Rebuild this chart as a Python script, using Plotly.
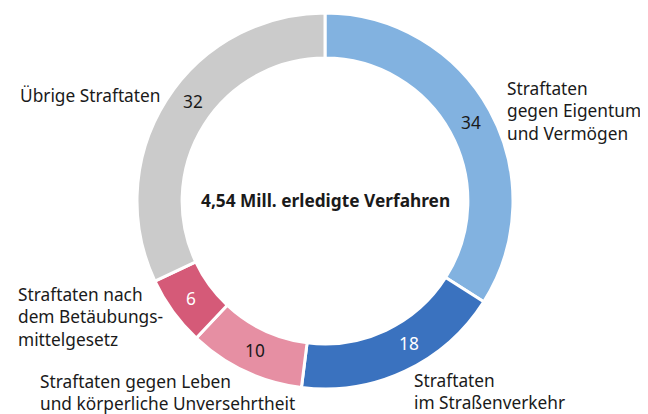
import math
import plotly.graph_objects as go

categories = ["Straftaten gegen Eigentum und Vermögen", "Straftaten im Straßenverkehr",
              "Straftaten gegen Leben und körperliche Unversehrtheit",
              "Straftaten nach dem Betäubungsmittelgesetz", "Übrige Straftaten"]
values = [34, 18, 10, 6, 32]
colors = ["#82B2E0", "#3A72BF", "#E68FA3", "#D55A78", "#CBCBCB"]
text_colors = ["#1a1a1a", "#ffffff", "#1a1a1a", "#ffffff", "#1a1a1a"]
center_text = "4,54 Mill. erledigte Verfahren"

FONT = "Noto Sans"
FS = 17.3
W, H = 640, 406   # page body has an 8px margin
OFF = 8
CX, CY, R_OUT, HOLE = 325, 201, 188, 0.76

fig = go.Figure(go.Pie(
    labels=categories, values=values, sort=False, direction="clockwise", rotation=0,
    hole=HOLE, marker=dict(colors=colors, line=dict(color="white", width=3)),
    textinfo="none",
    domain=dict(x=[(CX - R_OUT - OFF) / W, (CX + R_OUT - OFF) / W],
                y=[(414 - (CY + R_OUT)) / H, (414 - (CY - R_OUT)) / H]),
    showlegend=False, hoverinfo="label+value",
))

# value labels placed on the ring, at each slice's mid angle (with small nudges)
nudges = [0.5, -5.5, 0, 0, 4.5]
r_mid = R_OUT * (1 + HOLE) / 2
total = sum(values)
cum = 0
for v, col, nd in zip(values, text_colors, nudges):
    ang = math.radians((cum + v / 2) / total * 360 + nd)
    cum += v
    px = CX + r_mid * math.sin(ang)
    py = CY - r_mid * math.cos(ang)
    fig.add_annotation(x=(px - OFF) / W, y=1 - (py - OFF) / H, xref="paper", yref="paper",
                       text=str(v), showarrow=False, xanchor="center", yanchor="middle",
                       font=dict(family=FONT, size=FS, color=col))

anns = [
    dict(x=325, y=200, text="<b>" + center_text + "</b>", xanchor="center"),
    dict(x=505, y=111, text="Straftaten<br>gegen Eigentum<br>und Vermögen", xanchor="left"),
    dict(x=412, y=391, text="Straftaten<br>im Straßenverkehr", xanchor="left"),
    dict(x=38, y=392, text="Straftaten gegen Leben<br>und körperliche Unversehrtheit", xanchor="left"),
    dict(x=16, y=317, text="Straftaten nach<br>dem Betäubungs-<br>mittelgesetz", xanchor="left"),
    dict(x=18, y=96, text="Übrige Straftaten", xanchor="left"),
]
for a in anns:
    fig.add_annotation(x=(a["x"] - OFF) / W, y=1 - (a["y"] - OFF) / H,
                       xref="paper", yref="paper",
                       text=a["text"], xanchor=a["xanchor"], yanchor="middle",
                       align="left", showarrow=False,
                       font=dict(family=FONT, size=FS, color="#1a1a1a"))

fig.update_layout(width=W, height=H, margin=dict(l=0, r=0, t=0, b=0),
                  paper_bgcolor="white", plot_bgcolor="white",
                  font=dict(family=FONT, size=FS, color="#1a1a1a"))
fig.write_html("out.html")
